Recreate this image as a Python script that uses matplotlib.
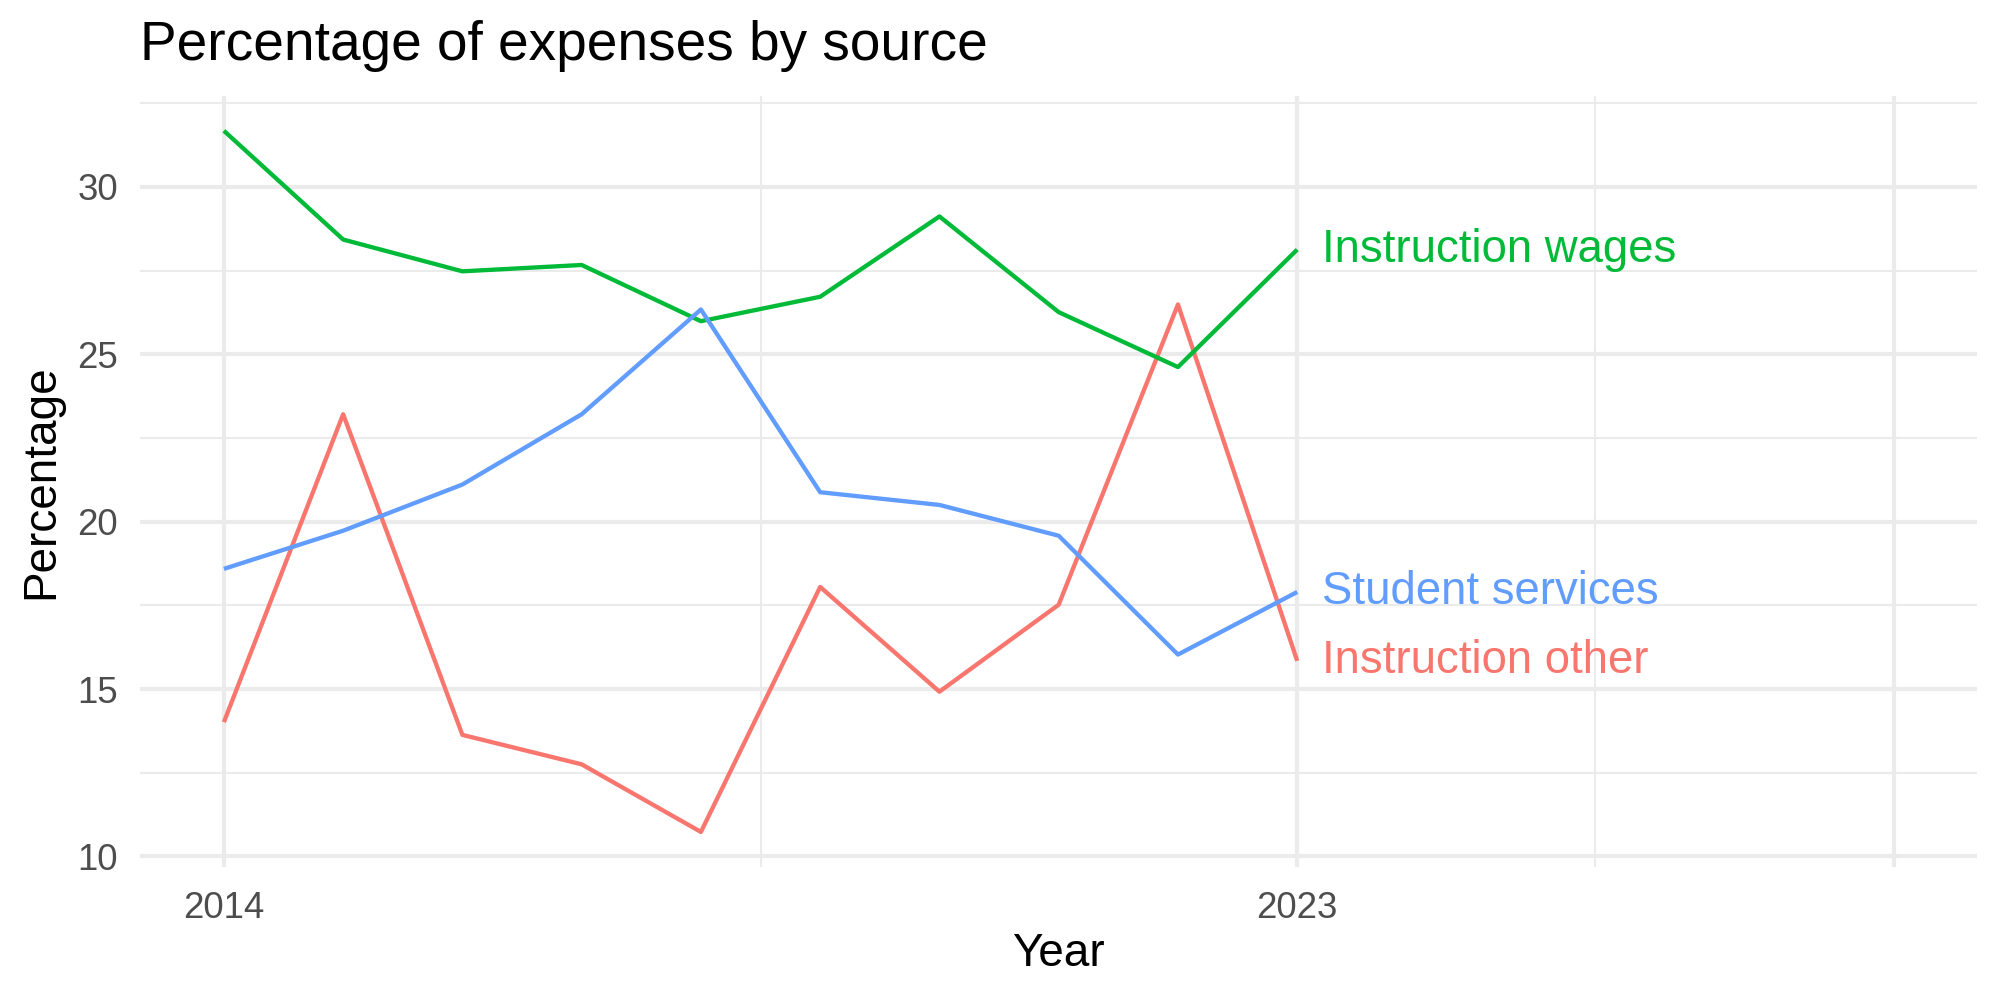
import matplotlib
matplotlib.use("Agg")
import matplotlib.pyplot as plt
import numpy as np

years = [2014, 2015, 2016, 2017, 2018, 2019, 2020, 2021, 2022, 2023]
instruction_wages = [31.68, 28.43, 27.48, 27.67, 25.99, 26.72, 29.12, 26.26, 24.62, 28.13]
student_services = [18.59, 19.73, 21.11, 23.21, 26.34, 20.88, 20.50, 19.58, 16.03, 17.90]
instruction_other = [14.01, 23.21, 13.63, 12.75, 10.73, 18.05, 14.92, 17.52, 26.49, 15.84]

series_names = ["Instruction other", "Instruction wages", "Student services"]
series_values = [instruction_other, instruction_wages, student_services]
series_colors = ["#F8766D", "#00BA38", "#619CFF"]

x_tick_labels = ["2014", "2023"]
y_ticks = [10, 15, 20, 25, 30]

plt.rcParams['font.family'] = ['Liberation Sans', 'DejaVu Sans']

fig = plt.figure(figsize=(10, 5), dpi=200)
ax = fig.add_axes([0.0702, 0.133, 0.9885 - 0.0702, 0.9043 - 0.133])

for name, vals, col in zip(series_names, series_values, series_colors):
    ax.plot(years, vals, color=col, lw=1.55, zorder=3, solid_capstyle='butt')
    ax.text(years[-1] + 0.21, vals[-1], name, color=col, fontsize=16.4,
            ha='left', va='center', zorder=4)

xmin, xmax = 2014, 2028
xr = xmax - xmin
ax.set_xlim(xmin - 0.05 * xr, xmax + 0.05 * xr)
allv = np.concatenate([np.array(v) for v in series_values])
lo, hi = allv.min(), allv.max()
ax.set_ylim(lo - 0.05 * (hi - lo), hi + 0.05 * (hi - lo))

# grid
major_x = [2014, 2023, 2028]
minor_x = [2018.5, 2025.5]
major_y = y_ticks
minor_y = [12.5, 17.5, 22.5, 27.5, 32.5]
for xv in major_x:
    ax.axvline(xv, color="#EBEBEB", lw=1.5, zorder=1)
for xv in minor_x:
    ax.axvline(xv, color="#EBEBEB", lw=0.75, zorder=1)
for yv in major_y:
    ax.axhline(yv, color="#EBEBEB", lw=1.5, zorder=1)
for yv in minor_y:
    ax.axhline(yv, color="#EBEBEB", lw=0.75, zorder=1)

ax.set_xticks([2014, 2023])
ax.set_xticklabels(x_tick_labels)
ax.set_yticks(y_ticks)
ax.set_yticklabels([str(v) for v in y_ticks])
ax.tick_params(axis='both', length=0, labelsize=13.2, labelcolor="#4D4D4D")
ax.tick_params(axis='y', pad=8)
ax.tick_params(axis='x', pad=8.5)
for s in ax.spines.values():
    s.set_visible(False)

ax.set_xlabel("Year", fontsize=16.5, color="black")
ax.set_ylabel("Percentage", fontsize=16.5, color="black")
ax.xaxis.set_label_coords(0.5, -0.113)
ax.xaxis.label.set_va('center')
ax.yaxis.set_label_coords(-0.054, 0.5)
ax.yaxis.label.set_va('center')
fig.text(0.0702, 0.954, "Percentage of expenses by source", fontsize=19.8,
         ha='left', va='center', color='black')

fig.savefig("out.png", dpi=200, facecolor='white')
